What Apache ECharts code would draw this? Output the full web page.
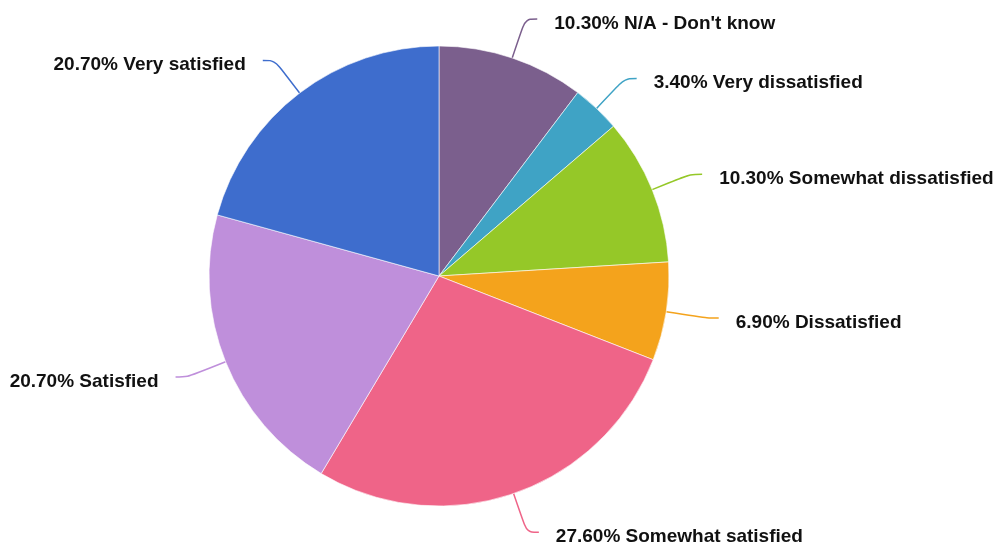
<!DOCTYPE html>
<html>
<head>
<meta charset="utf-8">
<script src="https://cdn.jsdelivr.net/npm/echarts@6/dist/echarts.min.js"></script>
<style>
  html, body { margin: 0; padding: 0; background: #fff; }
  #chart { width: 997px; height: 548px; }
</style>
</head>
<body>
<div id="chart"></div>
<script>
// Survey responses, in clockwise order from 12 o'clock
const categories = [
  "N/A - Don't know",
  "Very dissatisfied",
  "Somewhat dissatisfied",
  "Dissatisfied",
  "Somewhat satisfied",
  "Satisfied",
  "Very satisfied"
];
const shares = [10.3, 3.4, 10.3, 6.9, 27.6, 20.7, 20.7];
const sliceColors = ["#7b5f8d", "#3fa3c5", "#95c828", "#f4a31c", "#ef6488", "#bf8fdb", "#3e6dcd"];

const chart = echarts.init(document.getElementById('chart'), null, { renderer: 'canvas' });

const labelFont = {
  fontFamily: '"Liberation Sans", Arial, sans-serif',
  fontWeight: 'bold',
  fontSize: 19,
  color: '#111111'
};

chart.setOption({
  animation: false,
  backgroundColor: '#ffffff',
  series: [{
    type: 'pie',
    center: [439, 276],
    radius: [0, 230],
    startAngle: 90,
    clockwise: true,
    avoidLabelOverlap: false,
    itemStyle: { borderColor: '#ffffff', borderWidth: 0.6 },
    label: Object.assign({
      show: true,
      // text sits slightly below the end of its leader line
      formatter: p => '{t|' + p.value.toFixed(2) + '% ' + p.name + '}',
      rich: { t: Object.assign({ padding: [9, 0, 0, 0] }, labelFont) },
      distanceToLabelLine: 17
    }, labelFont),
    labelLine: {
      show: true,
      length: 41,
      length2: 12,
      smooth: 0.35,
      lineStyle: { width: 1.5 }
    },
    data: categories.map((name, i) => ({
      name,
      value: shares[i],
      itemStyle: { color: sliceColors[i] },
      labelLine: { lineStyle: { color: sliceColors[i] } }
    }))
  }]
});
</script>
</body>
</html>
